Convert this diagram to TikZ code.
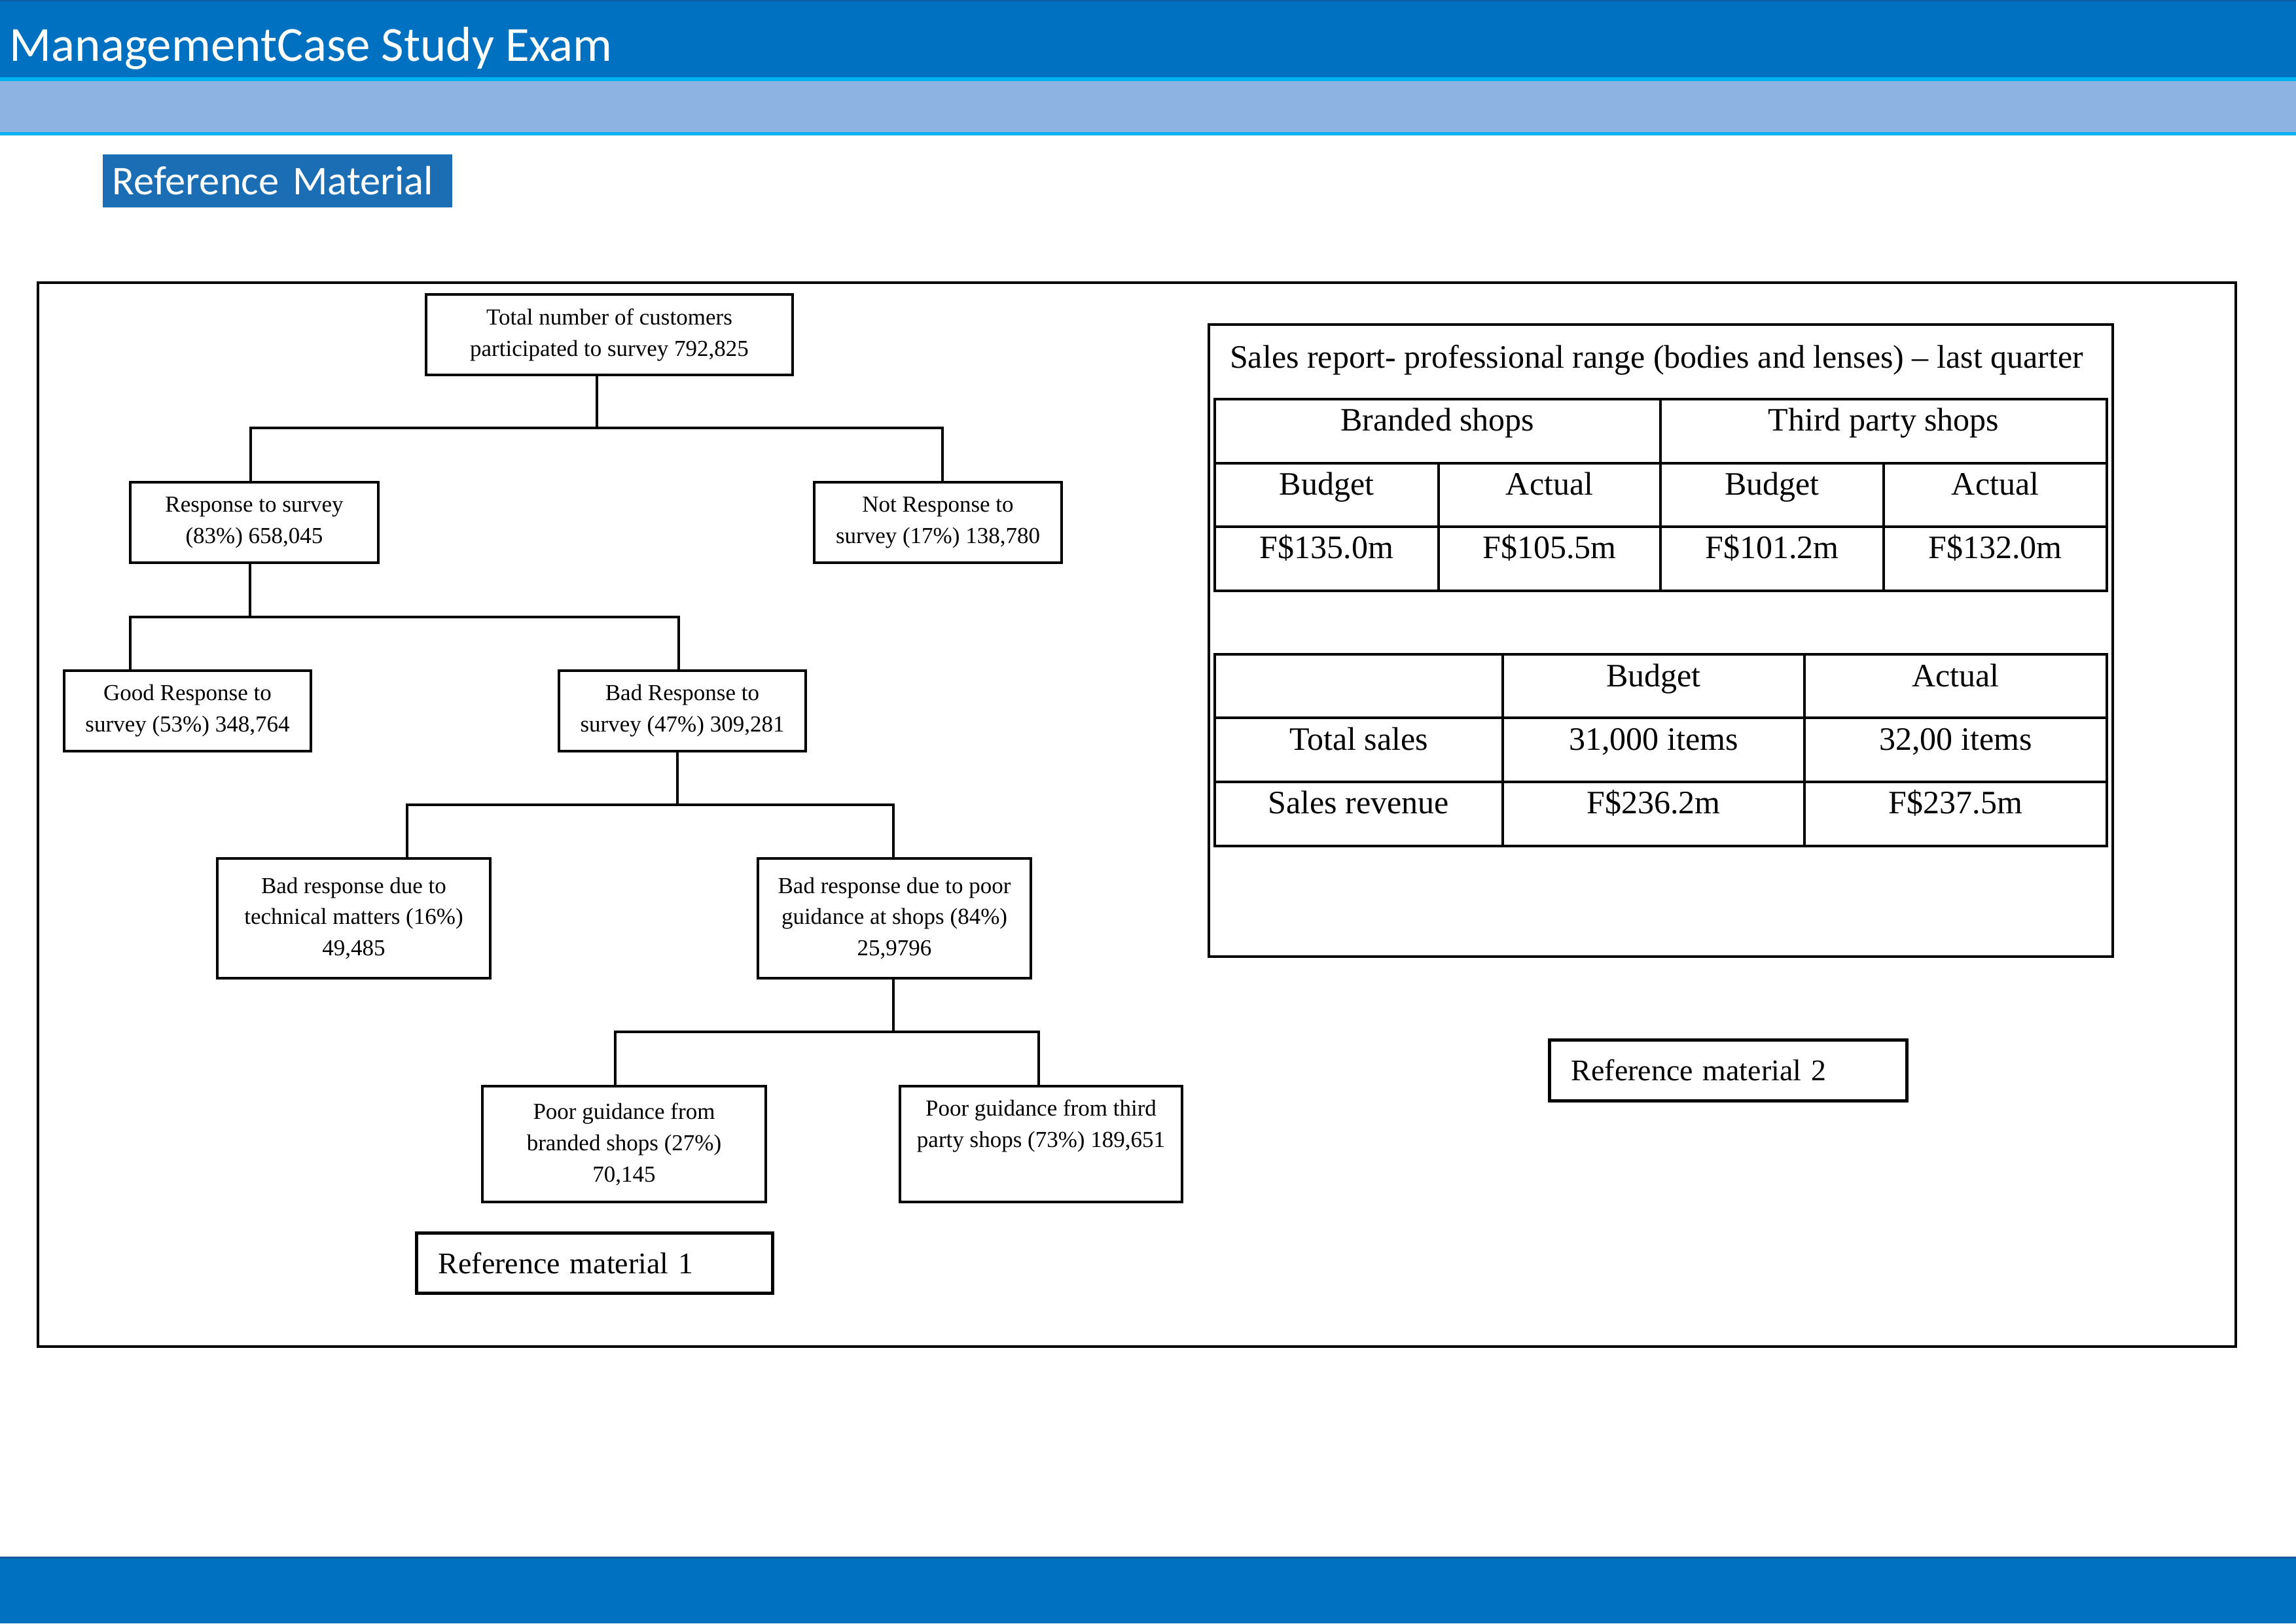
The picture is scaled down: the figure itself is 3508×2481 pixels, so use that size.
\documentclass[tikz,border=0pt]{standalone}
\usepackage{fontspec}
\setmainfont{Liberation Serif}
\newfontfamily\calfont{Carlito}
\usetikzlibrary{calc}
\definecolor{topblue}{RGB}{0,112,192}
\definecolor{topedge}{RGB}{20,90,160}
\definecolor{lightband}{RGB}{141,179,226}
\definecolor{cyanline}{RGB}{0,176,240}
\definecolor{refblue}{RGB}{28,110,180}
\tikzset{
  tbox/.style={draw, line width=0.85pt, inner sep=0pt, outer sep=0pt, align=center,
    font=\fontsize{8.4}{11.5}\selectfont},
  conn/.style={line width=0.85pt},
  refbox/.style={draw, line width=1.2pt, outer sep=0pt, inner ysep=0pt, align=left,
    font=\fontsize{11}{13}\selectfont},
  cell/.style={anchor=base, inner sep=0pt, font=\fontsize{12}{14}\selectfont},
  tline/.style={line width=0.8pt},
  frame/.style={line width=1pt},
}
\begin{document}
\begin{tikzpicture}[x=0.24pt,y=-0.24pt]
\useasboundingbox (0,0) rectangle (3508,2481);
% header bands
\fill[topblue] (0,0) rectangle (3508,118);
\fill[topedge] (0,0) rectangle (3508,2);
\fill[cyanline] (0,118) rectangle (3508,124);
\fill[lightband] (0,124) rectangle (3508,202);
\fill[cyanline] (0,202) rectangle (3508,207);
\node[anchor=base west, inner sep=0pt, text=white, font=\calfont\fontsize{18}{22}\selectfont] (title) at (14,93) {ManagementCase Study Exam};
% footer band
\fill[topblue] (0,2380) rectangle (3508,2481);
\fill[topedge] (0,2379) rectangle (3508,2382);
% reference material label
\node[fill=refblue, text=white, inner xsep=3.6pt, inner ysep=0pt, outer sep=0pt, text width=121pt, minimum height=19.4pt, align=left,
  font=\calfont\fontsize{15}{18}\selectfont] (reflabel) at (424,276.5) {Reference Material};
% outer frame
\draw[frame] (58,432) rectangle (3416,2058);

% tree
\node[tbox, minimum width=560*0.24pt, minimum height=123*0.24pt] (n1) at (931,511.5)
  {Total number of customers\\participated to survey 792,825};
\node[tbox, minimum width=379*0.24pt, minimum height=123*0.24pt] (n2) at (388.5,798.5)
  {Response to survey\\(83\%) 658,045};
\node[tbox, minimum width=378*0.24pt, minimum height=123*0.24pt] (n3) at (1433,798.5)
  {Not Response to\\survey (17\%) 138,780};
\node[tbox, minimum width=377*0.24pt, minimum height=123*0.24pt] (n4) at (286.5,1086.5)
  {Good Response to\\survey (53\%) 348,764};
\node[tbox, minimum width=377*0.24pt, minimum height=123*0.24pt] (n5) at (1042.5,1086.5)
  {Bad Response to\\survey (47\%) 309,281};
\node[tbox, minimum width=417*0.24pt, minimum height=183*0.24pt] (n6) at (540.5,1403.5)
  {Bad response due to\\technical matters (16\%)\\49,485};
\node[tbox, minimum width=417*0.24pt, minimum height=183*0.24pt] (n7) at (1366.5,1403.5)
  {Bad response due to poor\\guidance at shops (84\%)\\25,9796};
\node[tbox, minimum width=433*0.24pt, minimum height=177*0.24pt] (n8) at (953.5,1748.5)
  {Poor guidance from\\branded shops (27\%)\\70,145};
\node[tbox, minimum width=431*0.24pt, minimum height=177*0.24pt] (n9) at (1590.5,1748.5)
  {Poor guidance from third\\party shops (73\%) 189,651\\\strut};

\draw[conn] ($(n1.south)+(-19,0)$) |- ($(n2.north)+(-5.5,-83)$) -- ($(n2.north)+(-5.5,0)$);
\draw[conn] ($(n1.south)+(-19,0)$) |- ($(n3.north)+(7,-83)$) -- ($(n3.north)+(7,0)$);
\draw[conn] ($(n2.south)+(-6.5,0)$) |- ($(n4.north)+(-87.5,-82)$) -- ($(n4.north)+(-87.5,0)$);
\draw[conn] ($(n2.south)+(-6.5,0)$) |- ($(n5.north)+(-5.5,-82)$) -- ($(n5.north)+(-5.5,0)$);
\draw[conn] ($(n5.south)+(-7.5,0)$) |- ($(n6.north)+(81.5,-82)$) -- ($(n6.north)+(81.5,0)$);
\draw[conn] ($(n5.south)+(-7.5,0)$) |- ($(n7.north)+(-1.5,-82)$) -- ($(n7.north)+(-1.5,0)$);
\draw[conn] ($(n7.south)+(-1.5,0)$) |- ($(n8.north)+(-13.5,-83)$) -- ($(n8.north)+(-13.5,0)$);
\draw[conn] ($(n7.south)+(-1.5,0)$) |- ($(n9.north)+(-3.5,-83)$) -- ($(n9.north)+(-3.5,0)$);

\node[refbox, inner xsep=7.92pt, text width=114.5pt, minimum height=22.3pt] (r1) at (908.5,1930.5) {Reference material 1};
\node[refbox, inner xsep=7.92pt, text width=115pt, minimum height=22.1pt] (r2) at (2640.5,1636) {Reference material 2};

% sales report box
\draw[frame] (1847,496) rectangle (3228,1462);
\node[cell] (stitle) at (2531,562) {Sales report- professional range (bodies and lenses) – last quarter};

% table 1
\draw[tline] (1856,610) rectangle (3219,903);
\draw[tline] (1856,708) -- (3219,708);
\draw[tline] (1856,805) -- (3219,805);
\draw[tline] (2537,610) -- (2537,903);
\draw[tline] (2198,708) -- (2198,903);
\draw[tline] (2878,708) -- (2878,903);
\node[cell] (h1) at (2196.5,658) {Branded shops};
\node[cell] (h2) at (2878,658) {Third party shops};
\node[cell] (b1) at (2027,756) {Budget};
\node[cell] (a1) at (2367.5,756) {Actual};
\node[cell] (b2) at (2707.5,756) {Budget};
\node[cell] (a2) at (3048.5,756) {Actual};
\node[cell] (v1) at (2027,853) {F\$135.0m};
\node[cell] (v2) at (2367.5,853) {F\$105.5m};
\node[cell] (v3) at (2707.5,853) {F\$101.2m};
\node[cell] (v4) at (3048.5,853) {F\$132.0m};

% table 2
\draw[tline] (1856,1000) rectangle (3219,1293);
\draw[tline] (1856,1097) -- (3219,1097);
\draw[tline] (1856,1195) -- (3219,1195);
\draw[tline] (2296,1000) -- (2296,1293);
\draw[tline] (2757,1000) -- (2757,1293);
\node[cell] (t12) at (2526.5,1049) {Budget};
\node[cell] (t13) at (2988,1049) {Actual};
\node[cell] (t21) at (2076,1146) {Total sales};
\node[cell] (t22) at (2526.5,1146) {31,000 items};
\node[cell] (t23) at (2988,1146) {32,00 items};
\node[cell] (t31) at (2076,1243) {Sales revenue};
\node[cell] (t32) at (2526.5,1243) {F\$236.2m};
\node[cell] (t33) at (2988,1243) {F\$237.5m};
\end{tikzpicture}
\end{document}
